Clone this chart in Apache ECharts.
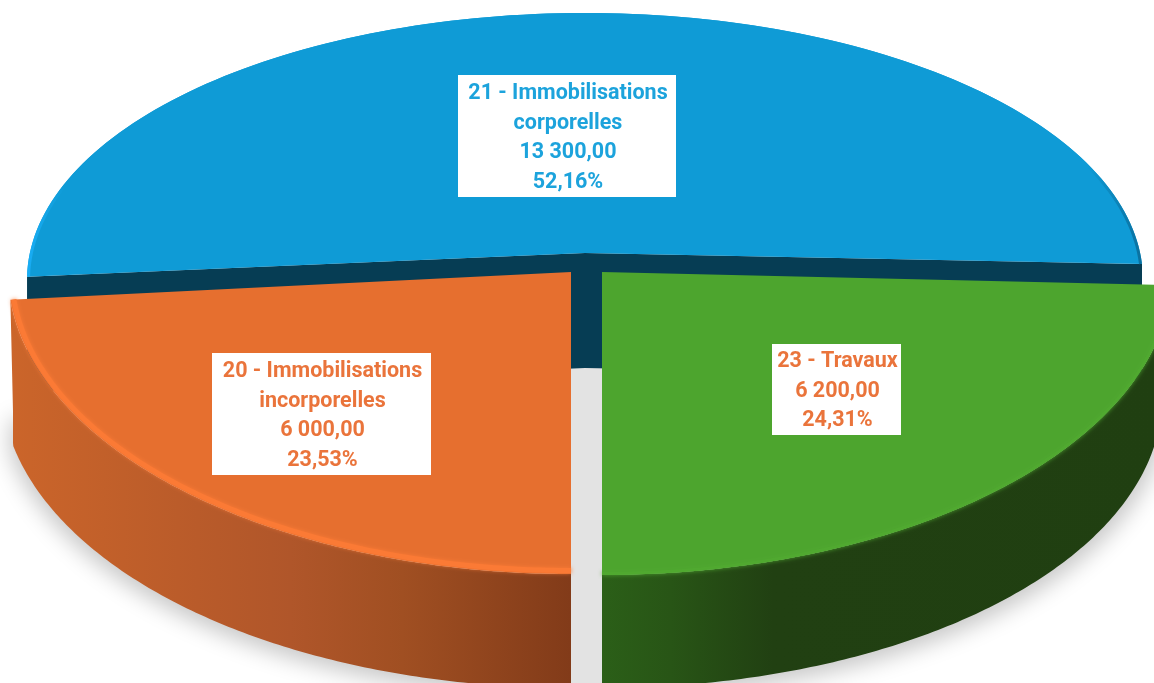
<!DOCTYPE html>
<html><head><meta charset="utf-8">
<style>html,body{margin:0;padding:0;background:#fff}#c{width:1154px;height:683px;filter:blur(0.5px)}</style>
<script src="https://cdn.jsdelivr.net/npm/echarts@6/dist/echarts.min.js"></script>
</head><body><div id="c"></div>
<script>
const categories = ['20 - Immobilisations\nincorporelles', '21 - Immobilisations\ncorporelles', '23 - Travaux'];
const values = [6000, 13300, 6200];
const firstSliceAngle = 180;

const topColors = ['#e66f2f', '#0f9bd6', '#4da52e'];
const textColors = ['#ea743b', '#1ca3dc', '#ea743b'];
const drawOrder = [2, 1, 3];
const floorShape = {cx:587, cy:383, rx:540, ry:305};
const slices = [
  {cx:571, cy:272, rx:563, ry:302, bx:571, by:383, brx:570, bry:305, minX:13, shadowDx:-3,
   side:[[0,'#cb652a'],[.5,'#b0562a'],[.7,'#a04f22'],[1,'#823b19']],
   bevel:{color:'#fb7a35', width:5, inset:3.5},
   label:{x:212,y:353,w:219,h:122}},
  {cx:585, cy:253, ecy:280, rx:558, ry:267, ryK:255, depth:115, dark:'#063d54',
   label:{x:458,y:75,w:218,h:122}},
  {cx:602, cy:272, rx:570, ry:303, bx:602, by:398, brx:560, bry:290, shadowDx:4,
   side:[[0,'#2b5f18'],[.12,'#285516'],[.3,'#214012'],[1,'#203f11']],
   bevel:{color:'#50a930', width:3, inset:1.5},
   label:{x:772,y:344,w:129,h:91}}
];
const total = values.reduce((a, b) => a + b, 0);
const D = Math.PI / 180;
const money = v => String(Math.floor(v)).replace(/\B(?=(\d{3})+$)/g, ' ') + ',00';
const pct = v => (v / total * 100).toFixed(2).replace('.', ',') + '%';

function arc(cx, cy, rx, ry, a1, a2, n) {
  const pts = [];
  n = n || 140;
  for (let i = 0; i <= n; i++) {
    const t = (a1 + (a2 - a1) * i / n) * D;
    pts.push([cx + rx * Math.sin(t), cy - ry * Math.cos(t)]);
  }
  return pts;
}
// Where the radial edge of a slice meets the (perspective-shifted) rim ellipse.
function rimAngle(s, a) {
  const dx = s.rx * Math.sin(a * D), dy = -s.ryK * Math.cos(a * D);
  const oy = s.cy - s.ecy;
  const A = dx * dx / (s.rx * s.rx) + dy * dy / (s.ry * s.ry);
  const B = 2 * oy * dy / (s.ry * s.ry);
  const C = oy * oy / (s.ry * s.ry) - 1;
  const u = (-B + Math.sqrt(B * B - 4 * A * C)) / (2 * A);
  return Math.atan2(dx * u / s.rx, -(oy + dy * u) / s.ry) / D;
}
function grad(stops) {
  return new echarts.graphic.LinearGradient(0, 0, 1, 0, stops.map(p => ({offset:p[0], color:p[1]})));
}
function renderItem(params, api) {
  const i = params.dataIndex, v = api.value(0), s = slices[i];
  let start = firstSliceAngle;
  for (let k = 0; k < i; k++) start += values[k] / total * 360;
  const end = start + v / total * 360;
  const z = drawOrder[i] * 10;
  const children = [];
  if (s.depth) {
    let a1 = rimAngle(s, start), a2 = rimAngle(s, end);
    if (a1 < 0) a1 += 360;
    if (a2 < a1) a2 += 360;
    const top = arc(s.cx, s.ecy, s.rx, s.ry, a1, a2);
    const L = top[0], R = top[top.length - 1], d = s.depth;
    children.push({type:'ellipse', z2:2, shape:floorShape, style:{fill:'#e3e3e3'}});
    children.push({type:'polygon', z2:z, shape:{points:[L,[s.cx,s.cy],R,[R[0],R[1]+d],[s.cx,s.cy+d],[L[0],L[1]+d]]},
      style:{fill:s.dark}});
    children.push({type:'polygon', z2:z+1, shape:{points:top.concat([[s.cx,s.cy]])}, style:{fill:api.visual('color')}});
    children.push({type:'polyline', z2:z+2, shape:{points:arc(s.cx,s.ecy,s.rx-1.5,s.ry-1.5,a1,a2)},
      style:{fill:null,lineWidth:3,stroke:grad([[0,'#19aef6'],[.035,'#0f9bd6'],[.95,'#0f9bd6'],[1,'#0a6f9e']])}});
  } else {
    const top = arc(s.cx, s.cy, s.rx, s.ry, start, end);
    const bot = arc(s.bx, s.by, s.brx, s.bry, start, end)
      .map(p => [s.minX ? Math.max(p[0], s.minX) : p[0], p[1]]);
    const all = top.concat(bot.slice().reverse());
    children.push({type:'polygon', z2:1, shape:{points:bot.concat([[s.cx,s.by]])},
      style:{fill:'#d8d8d8',shadowBlur:22,shadowOffsetX:s.shadowDx,shadowOffsetY:8,shadowColor:'rgba(0,0,0,0.22)'}});
    children.push({type:'polygon', z2:z, shape:{points:all}, style:{fill:grad(s.side)}});
    children.push({type:'polygon', z2:z+1, shape:{points:top.concat([[s.cx,s.cy]])}, style:{fill:api.visual('color')}});
    const b = s.bevel;
    children.push({type:'polyline', z2:z+2, shape:{points:arc(s.cx,s.cy,s.rx-b.inset,s.ry-b.inset,start,end)},
      style:{fill:null,lineWidth:b.width,stroke:b.color,shadowBlur:4,shadowColor:b.color}});
  }
  const b = s.label;
  children.push({type:'rect', z2:90, shape:{x:b.x,y:b.y,width:b.w,height:b.h}, style:{fill:'#fff'}});
  children.push({type:'text', z2:91, style:{
    x:b.x+b.w/2+1, y:b.y+b.h/2+2,
    text:categories[i]+'\n'+money(v)+'\n'+pct(v),
    align:'center', verticalAlign:'middle',
    font:'bold 21.5px Roboto', lineHeight:29.5, fill:textColors[i]}});
  return {type:'group', children};
}
const chart = echarts.init(document.getElementById('c'), null, {renderer:'canvas'});
chart.setOption({
  animation:false,
  backgroundColor:'#ffffff',
  series:[{
    type:'custom', coordinateSystem:'none', silent:true,
    renderItem,
    data:values.map((v,i)=>({value:[v],name:categories[i],itemStyle:{color:topColors[i]}}))
  }]
});
</script></body></html>
